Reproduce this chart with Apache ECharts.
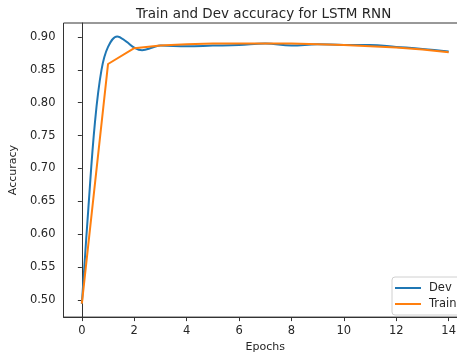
<!DOCTYPE html>
<html>
<head>
<meta charset="utf-8">
<script src="https://cdn.jsdelivr.net/npm/echarts@6/dist/echarts.min.js"></script>
<style>
  html, body { margin: 0; padding: 0; background: #fff; overflow: hidden; }
  /* plot runs past the right edge of the picture, like the reference */
  #chart { width: 472px; height: 358px; }
</style>
</head>
<body>
<div id="chart"></div>
<script>
// values
const devEpochs = [0, 0.25, 0.5, 0.75, 1, 1.35, 1.7, 2, 2.3, 2.7, 3, 4, 5, 6, 7, 8, 9, 10, 11, 12, 13, 14];
const devAcc = [0.494, 0.64, 0.77, 0.85, 0.885, 0.901, 0.893, 0.884, 0.880, 0.884, 0.887, 0.886, 0.887, 0.888, 0.890, 0.887, 0.889, 0.888, 0.888, 0.885, 0.882, 0.878];

const trainEpochs = [0, 1, 2, 3, 4, 5, 6, 7, 8, 9, 10, 11, 12, 13, 14];
const trainAcc = [0.494, 0.859, 0.883, 0.887, 0.889, 0.890, 0.890, 0.890, 0.890, 0.889, 0.888, 0.886, 0.884, 0.881, 0.877];

const textColor = '#262626';
const font = 'DejaVu Sans';

const chart = echarts.init(document.getElementById('chart'), null, { renderer: 'canvas' });

const option = {
  backgroundColor: '#fff',
  animation: false,
  title: {
    text: 'Train and Dev accuracy for LSTM RNN',
    left: 131,
    top: 2,
    textStyle: { fontFamily: font, fontSize: 13.5, fontWeight: 'normal', color: textColor }
  },
  grid: {
    left: 63,
    top: 23,
    width: 404,
    height: 297,
    show: true,
    borderColor: '#333',
    borderWidth: 1,
    backgroundColor: 'transparent'
  },
  legend: {
    orient: 'vertical',
    left: 392,
    top: 277,
    icon: 'rect',
    itemWidth: 26,
    itemHeight: 2,
    itemGap: 4,
    padding: [5, 30, 5, 3],
    borderColor: '#d0d0d0',
    borderWidth: 1,
    borderRadius: 3,
    backgroundColor: 'rgba(255,255,255,0.8)',
    textStyle: { fontFamily: font, fontSize: 11.5, color: textColor, padding: [0, 0, 0, 3] },
    data: ['Dev', 'Train']
  },
  xAxis: {
    type: 'value',
    min: -0.7,
    max: 14.7,
    splitNumber: 8,
    name: 'Epochs',
    nameLocation: 'middle',
    nameGap: 24,
    nameTextStyle: { fontFamily: font, fontSize: 11, color: textColor },
    axisLine: { show: true, lineStyle: { color: '#333', width: 1 } },
    axisTick: { show: true, inside: false, length: 4, lineStyle: { color: '#333' } },
    axisLabel: {
      fontFamily: font, fontSize: 11.5, color: textColor, margin: 8,
      showMinLabel: false, showMaxLabel: false,
      formatter: v => (Number.isInteger(v) ? String(v) : '')
    },
    splitLine: { show: false }
  },
  yAxis: {
    type: 'value',
    min: 0.4736,
    max: 0.9214,
    splitNumber: 9,
    name: 'Accuracy',
    nameLocation: 'middle',
    nameGap: 35,
    nameTextStyle: { fontFamily: font, fontSize: 11, color: textColor },
    axisLine: { show: true, lineStyle: { color: '#333', width: 1 } },
    axisTick: { show: true, inside: false, length: 4, lineStyle: { color: '#333' } },
    axisLabel: {
      fontFamily: font, fontSize: 11.5, color: textColor, margin: 8,
      showMinLabel: false, showMaxLabel: false,
      formatter: v => v.toFixed(2)
    },
    splitLine: { show: false }
  },
  series: [
    {
      name: 'Dev',
      type: 'line',
      data: devEpochs.map((e, i) => [e, devAcc[i]]),
      smooth: 0.4,
      symbol: 'none',
      lineStyle: { color: '#1f77b4', width: 2 },
      itemStyle: { color: '#1f77b4' }
    },
    {
      name: 'Train',
      type: 'line',
      data: trainEpochs.map((e, i) => [e, trainAcc[i]]),
      symbol: 'none',
      lineStyle: { color: '#ff7f0e', width: 2 },
      itemStyle: { color: '#ff7f0e' }
    }
  ]
};

chart.setOption(option);
</script>
</body>
</html>
